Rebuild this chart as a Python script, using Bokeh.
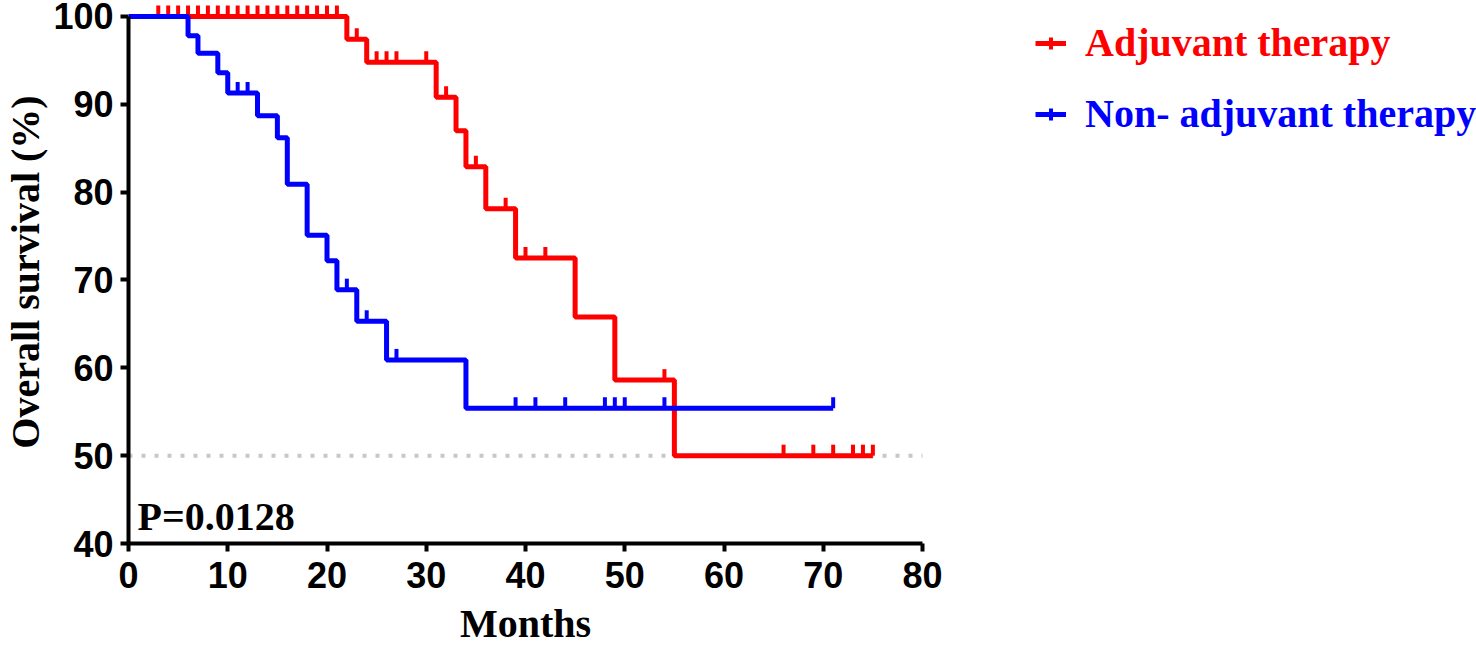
import numpy as np
from bokeh.plotting import figure
from bokeh.models import Range1d, FixedTicker, Label, Legend, LegendItem, Title
from bokeh.embed import file_html
from bokeh.resources import INLINE

# ---- data ----
adj_times = [0, 22, 24, 31, 33, 34, 36, 39, 45, 49, 55]
adj_surv = [100, 97.4, 94.8, 90.8, 87.0, 82.9, 78.1, 72.5, 65.8, 58.6, 50.0]
adj_end = 75
adj_censor = [3, 4, 5, 6, 7, 8, 9, 10, 11, 12, 13, 14, 15, 16, 17, 18, 19, 20, 21,
              23, 25, 26, 27, 30, 32, 35, 38, 40, 42, 54, 66, 69, 71, 73, 74, 75]

non_times = [0, 6, 7, 9, 10, 13, 15, 16, 18, 20, 21, 23, 26, 34]
non_surv = [100, 97.8, 95.8, 93.6, 91.3, 88.7, 86.2, 80.9, 75.1, 72.2, 68.9, 65.3, 60.9, 55.4]
non_end = 71
non_censor = [11, 12, 22, 24, 27, 39, 41, 44, 48, 49, 50, 54, 71]

x_ticks = [0, 10, 20, 30, 40, 50, 60, 70, 80]
y_ticks = [40, 50, 60, 70, 80, 90, 100]
median_level = 50
p_text = "P=0.0128"
x_title = "Months"
y_title = "Overall survival (%)"
labels = ["Adjuvant therapy", "Non- adjuvant therapy"]
colors = ["#ff0000", "#0000ff"]

# ---- layout (page pixels) ----
W, H = 1476, 653
frame_left, axis_right_px = 128, 922      # x=0 and x=80
frame_bottom, y100_px = 544, 16           # y=40 and y=100
px_per_x = (axis_right_px - frame_left) / (x_ticks[-1] - x_ticks[0])
px_per_y = (frame_bottom - y100_px) / (y_ticks[-1] - y_ticks[0])
x_end = x_ticks[0] + (W - frame_left) / px_per_x
y_end = y_ticks[-1] + y100_px / px_per_y

p = figure(width=W, height=H, output_backend="svg", toolbar_location=None,
           x_range=Range1d(x_ticks[0], x_end), y_range=Range1d(y_ticks[0], y_end),
           min_border_left=frame_left, min_border_right=0, min_border_top=0,
           min_border_bottom=H - frame_bottom)
p.outline_line_color = None
p.xgrid.visible = False
p.ygrid.visible = False
p.background_fill_color = "white"

for ax in (p.xaxis[0], p.yaxis[0]):
    ax.axis_line_width = 4
    ax.axis_line_color = "black"
    ax.major_tick_line_width = 4
    ax.major_tick_out = 8
    ax.major_tick_in = 0
    ax.minor_tick_line_color = None
    ax.major_label_text_font = "Liberation Sans"
    ax.major_label_text_font_style = "bold"
    ax.major_label_text_font_size = "36px"
    ax.major_label_text_color = "black"
    ax.axis_label_text_font = "Liberation Serif"
    ax.axis_label_text_font_style = "bold"
    ax.axis_label_text_font_size = "40px"
    ax.axis_label_text_color = "black"

p.xaxis.ticker = FixedTicker(ticks=x_ticks)
p.yaxis.ticker = FixedTicker(ticks=y_ticks)
p.xaxis.bounds = (x_ticks[0], x_ticks[-1])
p.yaxis.bounds = (y_ticks[0], y_ticks[-1])
p.yaxis.axis_label = y_title
p.xaxis.major_label_standoff = 10
p.yaxis.major_label_standoff = 7
p.yaxis.axis_label_standoff = 2

# x-axis title centred under the 0..80 axis
title_w = 131
axis_mid_px = (x_ticks[-1] - x_ticks[0]) / 2 * px_per_x
p.add_layout(Title(text=x_title, align="left", offset=axis_mid_px - title_w / 2,
                   standoff=16, text_font="Liberation Serif", text_font_style="bold",
                   text_font_size="40px", text_color="black"), "below")

# dotted reference line at 50 %
p.line([x_ticks[0], x_ticks[-1]], [median_level, median_level], line_color="#c8c8c8",
       line_width=4, line_dash="4 9")

tick_px = 11.0
half = tick_px / 2 / px_per_y

def step_value(times, surv, t):
    idx = np.searchsorted(np.asarray(times), t, side="right") - 1
    return np.asarray(surv)[idx]

legends = []
for times, surv, end, cens, lab, col in [
        (adj_times, adj_surv, adj_end, adj_censor, labels[0], colors[0]),
        (non_times, non_surv, non_end, non_censor, labels[1], colors[1])]:
    xs = list(times) + [end]
    ys = list(surv) + [surv[-1]]
    lr = p.step(xs, ys, mode="after", line_color=col, line_width=5)
    cy = step_value(times, surv, cens) + half
    p.scatter(cens, cy, marker="dash", angle=np.pi / 2, size=tick_px,
              line_color=col, line_width=4)
    # legend-only proxy for the censor mark
    proxy = p.scatter([np.nan], [np.nan], marker="cross", size=tick_px,
                      line_color=col, line_width=4)
    legends.append((LegendItem(label=lab, renderers=[lr, proxy]), col))

row_centers = [45, 116]
item_h = 44
for (item, col), rc in zip(legends, row_centers):
    lg = Legend(items=[item], location=(1035 - frame_left, frame_bottom - rc - item_h / 2),
                padding=0, margin=0, border_line_alpha=0, background_fill_alpha=0,
                glyph_width=31, glyph_height=30, label_height=item_h, label_standoff=19,
                label_text_font="Liberation Serif", label_text_font_style="bold",
                label_text_font_size="40px", label_text_color=col)
    p.add_layout(lg)

p.add_layout(Label(x=9, y=27, x_units="screen", y_units="screen", text=p_text,
                   text_font="Liberation Serif", text_font_style="bold",
                   text_font_size="40px", text_color="black", text_baseline="alphabetic"))

open("out.html", "w").write(file_html(p, INLINE))
